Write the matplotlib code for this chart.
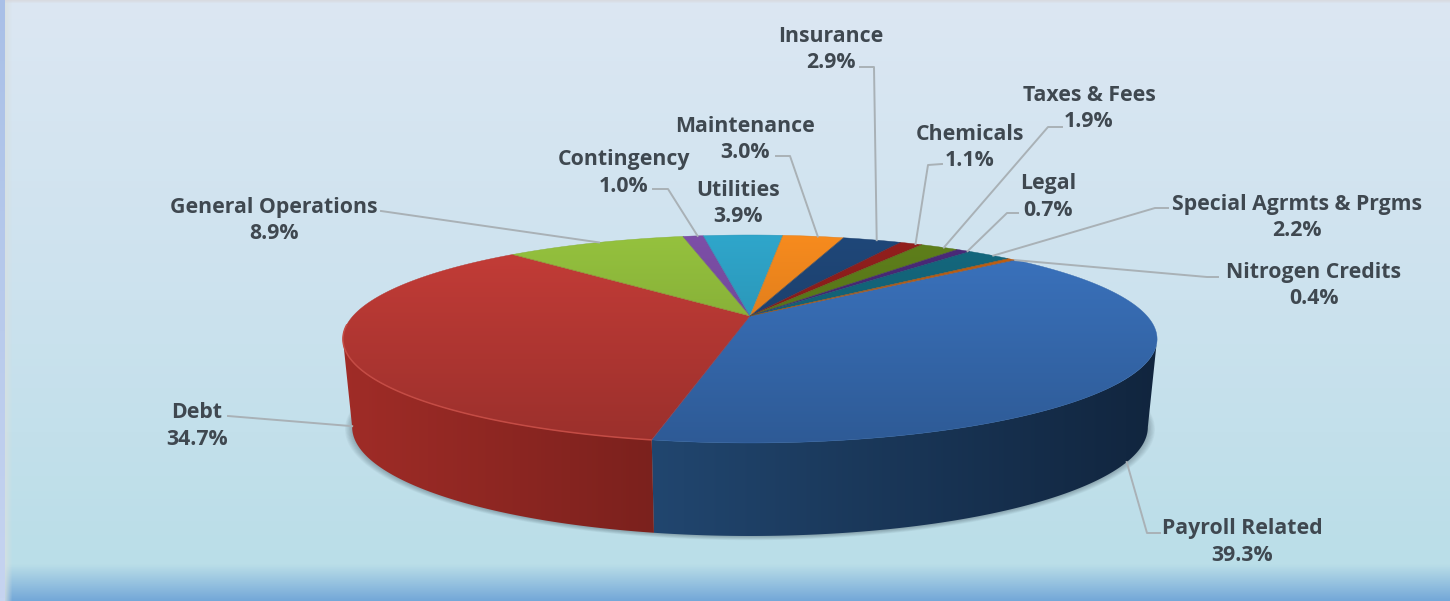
import numpy as np
import matplotlib
matplotlib.use("Agg")
import matplotlib.pyplot as plt
from matplotlib.colors import LinearSegmentedColormap
from matplotlib.patches import Polygon

# Budget shares, clockwise from the start of the largest slice
categories = ["Payroll Related", "Debt", "General Operations", "Contingency",
              "Utilities", "Maintenance", "Insurance", "Chemicals",
              "Taxes & Fees", "Legal", "Special Agrmts & Prgms", "Nitrogen Credits"]
shares = [39.3, 34.7, 8.9, 1.0, 3.9, 3.0, 2.9, 1.1, 1.9, 0.7, 2.2, 0.4]
top_colors = ["#3b74c0", "#c63d38", "#95c23e", "#7d4fa8", "#2fa6cb", "#f78b1e",
              "#1f4779", "#931f1d", "#5f801b", "#4b2a7a", "#14697f", "#c6600f"]

W, H = 1450, 601
START_ANGLE = 49.7
PERSPECTIVE = 0.221
TOP_DISC = dict(cx=750.0, cy=316.0, a=397.0, b=98.9)
BOTTOM_DISC = dict(cx=750.0, cy=403.0, a=388.0, b=103.6)

# Text centre and leader elbow for each category, in pixels
label_centers = {
    "Payroll Related": (1242, 542), "Debt": (197, 426),
    "General Operations": (274, 220.5), "Contingency": (624, 173),
    "Utilities": (738, 203.5), "Maintenance": (745, 139.5),
    "Insurance": (831, 49.5), "Chemicals": (970, 147.5),
    "Taxes & Fees": (1089, 108.5), "Legal": (1048, 197),
    "Special Agrmts & Prgms": (1297, 217.5), "Nitrogen Credits": (1314, 285.5),
}
leader_paths = {
    "Payroll Related": [(1160, 533), (1147, 533)],
    "Debt": [(228, 416)],
    "General Operations": [(381, 211)],
    "Contingency": [(653, 189), (668, 189)],
    "Maintenance": [(776, 156), (790, 156)],
    "Insurance": [(860, 67), (874, 67)],
    "Chemicals": [(942, 164), (928, 165)],
    "Taxes & Fees": [(1062, 127), (1048, 127)],
    "Legal": [(1018, 213), (1007, 213)],
    "Special Agrmts & Prgms": [(1168, 208), (1155, 208)],
    "Nitrogen Credits": [(1218, 277), (1207, 277)],
}
# How far down the side wall a leader lands: 0 is the top rim, 1 the lower rim
leader_drop = {"Payroll Related": 1.0, "Debt": 0.91}
LEADER_NUDGE = 0.8


def project(angle_deg, disc, scale=1.0):
    """Map a clockwise angle from twelve o'clock onto a disc seen in perspective."""
    t = np.radians(angle_deg)
    x, y = np.sin(t), np.cos(t)
    w = 1 + PERSPECTIVE * y
    return np.column_stack([disc["cx"] + scale * disc["a"] * x / w,
                            disc["cy"] - scale * disc["b"] * y / w])


def gradient(ax, bbox, colors, clip, vertical=True):
    """Paint a two-colour gradient over bbox and clip it to a polygon."""
    cmap = LinearSegmentedColormap.from_list("g", colors)
    ramp = np.linspace(0, 1, 256)
    ramp = ramp[:, None] if vertical else ramp[None, :]
    im = ax.imshow(ramp, cmap=cmap, extent=(bbox[0], bbox[1], bbox[3], bbox[2]),
                   aspect="auto", zorder=clip.get_zorder(), interpolation="bilinear")
    ax.add_patch(clip)
    clip.set_visible(False)
    im.set_clip_path(clip)


def shade(color, factor):
    return tuple(np.array(matplotlib.colors.to_rgb(color)) * factor)


fig = plt.figure(figsize=(W / 100, H / 100), dpi=100)
ax = fig.add_axes([0, 0, 1, 1])
ax.set_axis_off()

# Backdrop: pale vertical wash, darker band along the bottom, frame on the left
backdrop = LinearSegmentedColormap.from_list(
    "backdrop",
    [(0.0, "#dce7f3"), (0.5, "#cce2ee"), (0.94, "#badee8"), (1.0, "#74a8d8")],
    N=2048)
ramp = np.linspace(0, 1, H)[:, None]
ax.imshow(ramp, cmap=backdrop, extent=(0, W, H, 0), aspect="auto", zorder=0)
ax.imshow(ramp, cmap=LinearSegmentedColormap.from_list("frame", ["#a9c0e7", "#c6d4f0"]),
          extent=(0, 5, H, 0), aspect="auto", zorder=0.5)
ax.imshow(np.linspace(0, 1, 8)[None, :],
          cmap=LinearSegmentedColormap.from_list("edge", [(0.85, 0.88, 0.88, 0.75), (0.85, 0.88, 0.88, 0.0)]),
          extent=(5, 13, H, 0), aspect="auto", zorder=0.4)
ax.imshow(np.linspace(0, 1, 4)[:, None],
          cmap=LinearSegmentedColormap.from_list("lip", [(0.85, 0.85, 0.87, 0.8), (0.85, 0.85, 0.87, 0.0)]),
          extent=(5, W, 4, 0), aspect="auto", zorder=0.4)

fractions = np.array(shares) / sum(shares)
edges = START_ANGLE + 360 * np.concatenate([[0], np.cumsum(fractions)])
middles = (edges[:-1] + edges[1:]) / 2

# Soft shadow beneath the base of the pie
angles = np.linspace(0, 360, 361)
for step in range(10):
    spread = 1.0 + 0.002 * step
    pts = project(angles, BOTTOM_DISC, spread)
    pts[:, 1] += 0.5 + 0.15 * step
    ax.add_patch(Polygon(pts, closed=True, fc="#33434d", ec="none", alpha=0.04, zorder=1))

# Side wall of the slices that face the viewer
front_edge = np.degrees(np.arctan2(np.sqrt(1 - PERSPECTIVE ** 2), -PERSPECTIVE))
front = (front_edge, 360 - front_edge)
side_colors = {"Payroll Related": ("#21466f", "#11253e"), "Debt": ("#a02c27", "#7b211d")}
for name, lo, hi in zip(categories, edges[:-1], edges[1:]):
    a0, a1 = max(lo, front[0]), min(hi, front[1])
    if a1 <= a0 or name not in side_colors:
        continue
    sweep = np.linspace(a0, a1, 200)
    outline = np.vstack([project(sweep, TOP_DISC), project(sweep[::-1], BOTTOM_DISC)])
    bbox = (outline[:, 0].min(), outline[:, 0].max(), outline[:, 1].min(), outline[:, 1].max())
    gradient(ax, bbox, side_colors[name], Polygon(outline, closed=True, zorder=2), vertical=False)

# Top face, one clipped gradient per slice
pie_top, pie_bottom = 235, 443
for name, lo, hi, color in zip(categories, edges[:-1], edges[1:], top_colors):
    sweep = np.linspace(lo, hi, max(4, int(hi - lo) * 3))
    rim = project(sweep, TOP_DISC)
    apex = [[TOP_DISC["cx"], TOP_DISC["cy"]]]
    outline = np.vstack([apex, rim])
    gradient(ax, (330, 1170, pie_top, pie_bottom), (color, shade(color, 0.78)),
             Polygon(outline, closed=True, zorder=3))
    # Hairline in the slice colour hides the seams between neighbours
    ax.add_patch(Polygon(outline, closed=True, fc="none", ec=shade(color, 0.9), lw=0.3, zorder=3.1))

# Bevel highlight along the front rim of the second slice
lo, hi = edges[1], edges[2]
pts = project(np.linspace(max(lo, front[0]), min(hi, front[1] + 8), 120), TOP_DISC)
ax.plot(pts[:, 0], pts[:, 1], color="#c44c45", lw=1.1, zorder=3.2, solid_capstyle="butt")

# Leader lines and labels
for name, share, mid in zip(categories, shares, middles):
    if name in leader_paths:
        drop = leader_drop.get(name, 0.0)
        nudge = 0.0 if name in leader_drop else LEADER_NUDGE
        upper = project(np.array([mid + nudge]), TOP_DISC)[0]
        lower = project(np.array([mid + nudge]), BOTTOM_DISC)[0]
        end = upper + drop * (lower - upper)
        path = np.array(leader_paths[name] + [tuple(end)])
        ax.plot(path[:, 0], path[:, 1], color="#a9b1b6", lw=1.4, zorder=4,
                solid_joinstyle="round")
    cx, cy = label_centers[name]
    ax.text(cx, cy, f"{name}\n{share:.1f}%", ha="center", va="center",
            family="Open Sans", fontweight="bold", fontsize=15.3, color="#3f4850",
            linespacing=1.36, zorder=5)

ax.set_xlim(0, W)
ax.set_ylim(H, 0)
fig.savefig("out.png", dpi=100)
